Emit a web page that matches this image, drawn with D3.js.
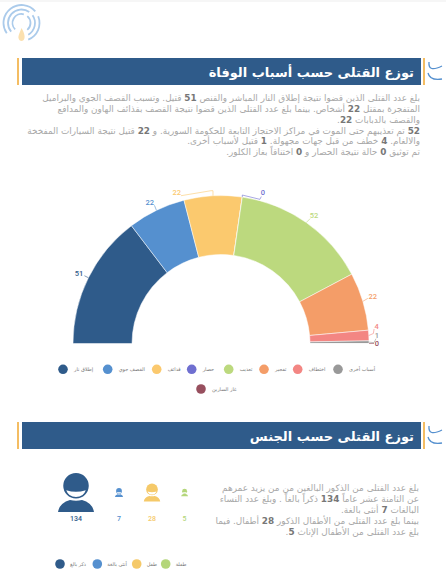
<!DOCTYPE html>
<html lang="ar"><head><meta charset="utf-8">
<script src="https://cdn.jsdelivr.net/npm/d3@7"></script>
<style>html,body{margin:0;padding:0;background:#fff}svg{display:block}text{font-family:"DejaVu Sans",sans-serif}.num{font-family:Roboto,sans-serif;font-weight:500}</style>
</head><body><div id="chart"></div>
<script>
const causes = ["إطلاق نار","القصف جوي","قذائف","حصار","تعذيب","تفجير","اختطاف","أسباب أخرى","غاز السارين"];
const causeValues = [51,22,22,0,52,22,4,1,0];
const causeColors = ["#2f5b8a","#5590cf","#fbc96e","#6f6fd0","#bcd97e","#f49d68","#f38683","#999999","#974f5e"];
const genderLabels = ["ذكر بالغ","أنثى بالغة","طفل","طفلة"];
const genderValues = [134,7,28,5];
const genderColors = ["#2f5b8a","#5590cf","#f5c969","#b4d67a"];
const title1 = "توزع القتلى حسب أسباب الوفاة";
const title2 = "توزع القتلى حسب الجنس";
const para1 = [
 [["بلغ عدد القتلى الذين قضوا نتيجة إطلاق النار المباشر والقنص "],["51",1],[" قتيل. وتسبب القصف الجوي والبراميل"]],
 [["المتفجرة بمقتل "],["22",1],[" أشخاص. بينما بلغ عدد القتلى الذين قضوا نتيجة القصف بقذائف الهاون والمدافع"]],
 [["والقصف بالدبابات "],["22",1],["."]],
 [["52",1],[" تم تعذيبهم حتى الموت في مراكز الاحتجاز التابعة للحكومة السورية. و "],["22",1],[" قتيل نتيجة السيارات المفخخة"]],
 [["والالغام. "],["4",1],[" خطف من قبل جهات مجهولة. "],["1",1],[" قتيل لأسباب أخرى."]],
 [["تم توثيق "],["0",1],[" حالة نتيجة الحصار و "],["0",1],[" اختناقاً بغاز الكلور."]]
];
const para2 = [
 [["بلغ عدد القتلى من الذكور البالغين من من يزيد عمرهم"]],
 [["عن الثامنة عشر عاماً  "],["134",1],[" ذكراً بالغاً . وبلغ عدد النساء"]],
 [["البالغات "],["7",1],[" أنثى بالغة."]],
 [["بينما بلغ عدد القتلى من الأطفال الذكور "],["28",1],[" أطفال. فيما"]],
 [["بلغ عدد القتلى من الأطفال الإناث "],["5",1],["."]]
];
const W=446,H=571;
const svg=d3.select("#chart").append("svg").attr("width",W).attr("height",H);
svg.append("rect").attr("width",W).attr("height",2).attr("fill","#f6f6f6");

// logo: concentric open rings and a flame
const rad=Math.PI/180, logoArc=d3.arc();
[[18,-125,50],[13.5,-130,35],[9,-135,15],[18,68,158],[13.5,55,150],[9,40,140]].forEach(([r,a,b])=>{
  svg.append("path").attr("transform","translate(21.5,23)")
   .attr("d",logoArc({innerRadius:r-0.9,outerRadius:r+0.9,startAngle:a*rad,endAngle:b*rad}))
   .attr("fill","#abcbeb");
});
svg.append("path").attr("d","M21.5 28 C24 32 25 36 24.5 38 C24 42 19 42 18.5 38 C18 36 20 32 21.5 28Z").attr("fill","#fbe0ae");

function header(y,h,title,fs){
  svg.append("rect").attr("x",17).attr("y",y).attr("width",2).attr("height",h).attr("fill","#f4bd63");
  svg.append("rect").attr("x",22).attr("y",y).attr("width",399).attr("height",h).attr("fill","#2f5b8a");
  svg.append("rect").attr("x",423).attr("y",y).attr("width",2).attr("height",h).attr("fill","#f4bd63");
  svg.append("text").attr("x",414).attr("y",y+h/2+5).attr("direction","rtl").attr("text-anchor","start")
    .attr("fill","#fff").attr("font-size",fs).attr("font-weight","bold").text(title);
  const g=svg.append("g").attr("fill","none").attr("stroke","#5590cf").attr("stroke-width",1.3);
  g.append("path").attr("d",`M429 ${y+4} Q428 ${y+15} 442 ${y+8}`);
  g.append("path").attr("d",`M428 ${y+15} Q430 ${y+23} 442 ${y+21}`);
}
header(58,27,title1,13);
header(422,27,title2,13);

function para(lines,xR,y0,lh,fs){
  lines.forEach((ln,i)=>{
    const t=svg.append("text").attr("x",xR).attr("y",y0+i*lh).attr("direction","rtl").attr("text-anchor","start")
      .attr("font-size",fs).attr("fill","#a8a8a8");
    ln.forEach(([s,b])=>{
      const sp=t.append("tspan").text(s);
      if(b) sp.attr("font-weight","bold").attr("fill","#777");
    });
  });
}
para(para1,420,101,10.85,8.9);
para(para2,419,491,10.9,8.9);

// Semi-donut
const cx=221,cy=343.5,rO=148,rI=89;
const pie=d3.pie().sort(null).value(d=>d).startAngle(-Math.PI/2).endAngle(Math.PI/2);
const arcs=pie(causeValues);
const arc=d3.arc().innerRadius(rI).outerRadius(rO);
const gp=svg.append("g").attr("transform",`translate(${cx},${cy})`);
gp.selectAll("path.s").data(arcs).join("path").attr("class","s").attr("d",arc)
  .attr("fill",(d,i)=>causeColors[i]).attr("stroke","#fff").attr("stroke-width",0.5);
// label offsets and leader bends, relative to each slice's outer mid-point
const labelOffsets=[[-9.4,-4],[-6.7,-7.3],[-36.3,-2.4],[20.6,-4],[7.7,-6.9],[9.9,-4.2],[7.9,-8.8],[8,-6.5],[8,.5]];
const leaders=[
 [[-4,-2]],[[-2,-5]],[[0,-5],[-2,-5],[-32,0]],[[0,-2],[17.6,2.3],[19,-.5]],
 [[4,-4]],[[5,-3]],[[4.6,-2],[5.3,-6.5]],[[5,.5],[7,-3.5]],[[5,0]]];
arcs.forEach((d,i)=>{
  const m=(d.startAngle+d.endAngle)/2;
  const x=Math.sin(m)*rO, y=-Math.cos(m)*rO;
  const p=[[x,y],...leaders[i].map(b=>[x+b[0],y+b[1]])];
  gp.append("path").attr("d",d3.line()(p)).attr("fill","none").attr("stroke",causeColors[i]).attr("stroke-width",0.6);
  gp.append("text").attr("class","num").attr("x",x+labelOffsets[i][0]).attr("y",y+labelOffsets[i][1]).attr("text-anchor","middle").attr("dominant-baseline","middle")
    .attr("font-size",7.5).attr("fill",causeColors[i]).text(causeValues[i]);
});

function legend(items,colors,xs,y,fs,r,gap){
  items.forEach((s,i)=>{
    svg.append("circle").attr("cx",xs[i]).attr("cy",y).attr("r",r).attr("fill",colors[i]);
    svg.append("text").attr("x",xs[i]+gap).attr("y",y+1.5).attr("direction","ltr").attr("text-anchor","start")
      .attr("font-size",fs).attr("fill","#777").text(s);
  });
}
legend(causes.slice(0,8),causeColors,[63,107.7,156.7,191.7,228.7,264,297.7,338],369.3,5,4.8,11);
legend([causes[8]],[causeColors[8]],[201],389,5,4.8,11);
legend(genderLabels,genderColors,[60,97.3,136.7,165.7],564,5,4.8,10);

// people icons, sized by the square root of the value
const personX=[76,119,152,184.6];
const personSize=d3.scaleSqrt().domain([0,134]).range([0,39]);
function person(cxp,top,s,col){
  const g=svg.append("g").attr("transform",`translate(${cxp},${top}) scale(${s/52})`);
  g.append("circle").attr("cx",0).attr("cy",17).attr("r",17).attr("fill",col);
  g.append("path").attr("d","M-13 23 Q0 27 13 23 Q10 32 0 32 Q-10 32 -13 23Z").attr("fill","#fff");
  g.append("path").attr("d","M-24 52 Q-22 40 -8 36 Q0 38 8 36 Q22 40 24 52Z").attr("fill",col);
}
genderValues.forEach((v,i)=>{
  const s=personSize(v);
  person(personX[i],492.5-s/2,s,genderColors[i]);
  svg.append("text").attr("class","num").attr("x",personX[i]).attr("y",521).attr("text-anchor","middle")
    .attr("font-size",7).attr("fill",genderColors[i]).text(v);
});
</script></body></html>
